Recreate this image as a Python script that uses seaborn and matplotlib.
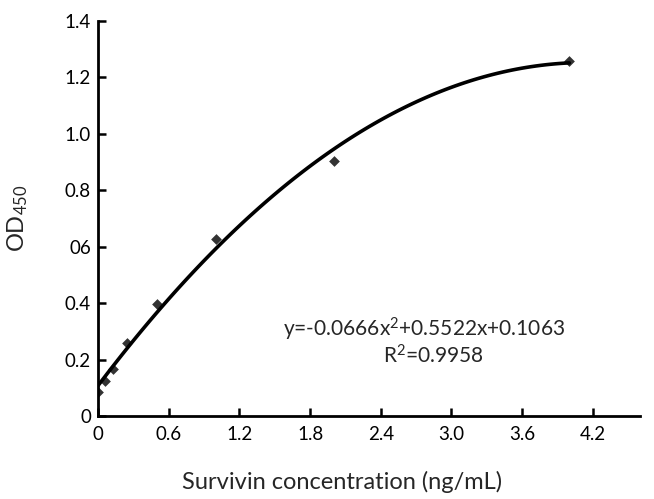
import matplotlib
matplotlib.use("Agg")
import matplotlib.pyplot as plt
import seaborn as sns
import pandas as pd

# Data
conc = [0.0, 0.0625, 0.125, 0.25, 0.5, 1.0, 2.0, 4.0]
od450 = [0.086, 0.124, 0.168, 0.257, 0.396, 0.628, 0.905, 1.259]
xticks = [0, 0.6, 1.2, 1.8, 2.4, 3.0, 3.6, 4.2]
xticklabels = ["0", "0.6", "1.2", "1.8", "2.4", "3.0", "3.6", "4.2"]
yticks = [0, 0.2, 0.4, 0.6, 0.8, 1.0, 1.2, 1.4]
yticklabels = ["0", "0.2", "0.4", "06", "0.8", "1.0", "1.2", "1.4"]
equation = "y=-0.0666x$^{2}$+0.5522x+0.1063"
r2 = "R$^{2}$=0.9958"

sns.set_style("ticks")
plt.rcParams["font.family"] = ["Lato", "DejaVu Sans"]
plt.rcParams["mathtext.default"] = "regular"

df = pd.DataFrame({"conc": conc, "od": od450})

fig = plt.figure(figsize=(6.54, 4.99), dpi=100)
ax = fig.add_axes([98 / 654, 1 - 416 / 499, (640 - 98) / 654, (416 - 21) / 499])

sns.regplot(data=df, x="conc", y="od", order=2, ci=None, truncate=True, ax=ax,
            marker="D", color="black",
            scatter_kws={"s": 30, "zorder": 3, "linewidths": 0},
            line_kws={"lw": 2.6, "color": "black"})

ax.set_xlim(0, 4.6)
ax.set_ylim(0, 1.4)
ax.set_xticks(xticks)
ax.set_xticklabels(xticklabels)
ax.set_yticks(yticks)
ax.set_yticklabels(yticklabels)
ax.tick_params(direction="in", length=6, width=1.8, labelsize=13.5, colors="black", pad=5)
ax.tick_params(axis="x", pad=7)

for side in ["top", "right"]:
    ax.spines[side].set_visible(False)
for side in ["left", "bottom"]:
    ax.spines[side].set_linewidth(2)
    ax.spines[side].set_color("black")

ax.set_xlabel("Survivin concentration (ng/mL)", fontsize=17)
ax.set_ylabel("OD$_{450}$", fontsize=17)
ax.xaxis.set_label_coords((342 - 98) / (640 - 98), -(471 - 416) / (416 - 21))
ax.yaxis.set_label_coords(-(98 - 30) / (640 - 98), 0.5)

ax.text((424 - 98) / (640 - 98), (416 - 329) / (416 - 21), equation,
        transform=ax.transAxes, ha="center", va="center", fontsize=15)
ax.text((433 - 98) / (640 - 98), (416 - 356) / (416 - 21), r2,
        transform=ax.transAxes, ha="center", va="center", fontsize=15)

fig.savefig("out.png", dpi=100)
